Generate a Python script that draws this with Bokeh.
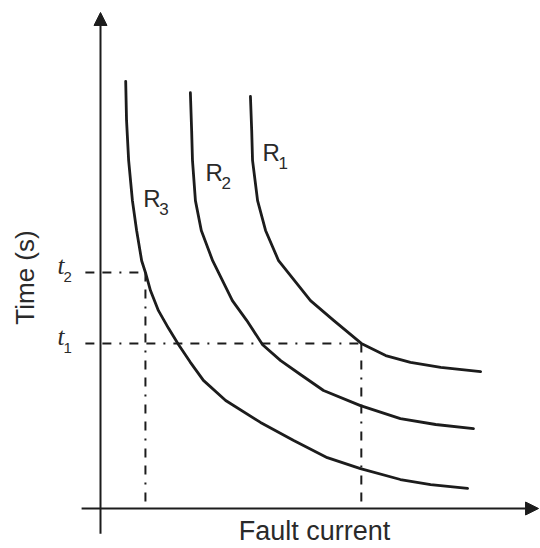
import math
from bokeh.plotting import figure
from bokeh.models import Range1d, Arrow, NormalHead
from bokeh.core.properties import value
from bokeh.embed import file_html
from bokeh.resources import INLINE

# ---- data (arbitrary units) ----
r1_current = [3.57, 3.60, 3.62, 3.74, 3.93, 4.24, 5.00, 5.55, 6.21, 6.79, 7.38, 8.10, 9.05]
r1_time = [9.81, 9.00, 8.29, 7.33, 6.62, 5.90, 4.95, 4.48, 3.93, 3.64, 3.48, 3.36, 3.26]

r2_current = [2.14, 2.17, 2.19, 2.26, 2.40, 2.67, 3.14, 3.48, 3.86, 4.29, 4.76, 5.31, 6.19,
              7.14, 7.98, 8.88]
r2_time = [9.90, 9.00, 8.29, 7.33, 6.62, 5.90, 4.95, 4.48, 3.90, 3.52, 3.19, 2.81, 2.45,
           2.14, 2.00, 1.90]

r3_current = [0.60, 0.62, 0.67, 0.76, 0.86, 0.98, 1.07, 1.19, 1.38, 1.62, 1.86, 2.14, 2.45,
              2.98, 3.81, 4.60, 5.40, 6.19, 7.14, 7.86, 8.74]
r3_time = [10.17, 9.24, 8.29, 7.33, 6.62, 5.90, 5.62, 5.19, 4.71, 4.29, 3.90, 3.48, 3.05,
           2.57, 2.05, 1.62, 1.21, 0.95, 0.69, 0.57, 0.48]

t_levels = [3.93, 5.62]          # t1, t2
t_currents = [6.21, 1.07]        # fault currents where the dashed verticals sit
t_labels = ["1", "2"]

relay_labels = ["1", "2", "3"]
relay_label_x = [3.86, 2.50, 1.02]
relay_label_y = [8.24, 7.76, 7.14]

x_title = "Fault current"
y_title = "Time (s)"

# ---- layout ----
W, H = 540, 548
PX = 42.0                 # pixels per data unit
OX, OY = 100, 508         # origin position in figure pixels

INK = "#1c1c1c"
TXT = "#2a2a2a"


def lift(font_px):
    # empirical correction of the rendered baseline, in data units
    return 0.42 * font_px / PX


p = figure(width=W, height=H, output_backend="svg", toolbar_location=None,
           x_range=Range1d(-OX / PX, (W - OX) / PX),
           y_range=Range1d(-(H - OY) / PX, OY / PX),
           min_border=0, min_border_left=0, min_border_right=0,
           min_border_top=0, min_border_bottom=0)
p.axis.visible = False
p.grid.visible = False
p.outline_line_color = None
p.background_fill_color = "white"
p.border_fill_color = "white"

# axes with arrowheads
p.add_layout(Arrow(end=NormalHead(size=13, fill_color=INK, line_color=INK),
                   x_start=0, y_start=-0.60, x_end=0, y_end=11.81,
                   line_width=2, line_color=INK))
p.add_layout(Arrow(end=NormalHead(size=13, fill_color=INK, line_color=INK),
                   x_start=-0.45, y_start=0, x_end=10.43, y_end=0,
                   line_width=2, line_color=INK))

# curves
for xs, ys in [(r1_current, r1_time), (r2_current, r2_time), (r3_current, r3_time)]:
    p.line(xs, ys, line_width=2.8, line_color=INK, line_join="round", line_cap="round")

# dashed guide lines
DASH = "9 8 9 8 2 8"
for tl, tc in zip(t_levels, t_currents):
    p.line([-0.36, tc], [tl, tl], line_width=2, line_color=INK, line_dash=DASH)
    p.line([tc, tc], [tl, 0], line_width=2, line_color=INK, line_dash=DASH)

# t labels
for tl, sub in zip(t_levels, t_labels):
    p.text(x=[-36 / PX], y=[tl - 4 / PX + lift(25)], text=["t"], text_align="right",
           text_baseline="alphabetic", text_font=value("Liberation Serif"),
           text_font_style="italic", text_font_size="25px", text_color=TXT)
    p.text(x=[-37 / PX], y=[tl - 11 / PX + lift(15)], text=[sub], text_align="left",
           text_baseline="alphabetic", text_font=value("Liberation Sans"),
           text_font_size="15px", text_color=TXT)

# relay labels
for lab, lx, ly in zip(relay_labels, relay_label_x, relay_label_y):
    p.text(x=[lx], y=[ly + lift(24)], text=["R"], text_align="left", text_baseline="alphabetic",
           text_font=value("Liberation Sans"), text_font_size="24px", text_color=TXT)
    p.text(x=[lx + 16 / PX], y=[ly - 8 / PX + lift(17)], text=[lab], text_align="left",
           text_baseline="alphabetic", text_font=value("Liberation Sans"),
           text_font_size="17px", text_color=TXT)

# axis titles
p.text(x=[214 / PX], y=[-34 / PX + lift(27)], text=[x_title], text_align="center",
       text_baseline="alphabetic", text_font=value("Liberation Sans"),
       text_font_size="27px", text_color=TXT)
p.text(x=[-65 / PX - lift(26)], y=[231 / PX], text=[y_title], text_align="center",
       text_baseline="alphabetic", angle=math.pi / 2,
       text_font=value("Liberation Sans"), text_font_size="26px", text_color=TXT)

open("out.html", "w").write(file_html(p, INLINE))
